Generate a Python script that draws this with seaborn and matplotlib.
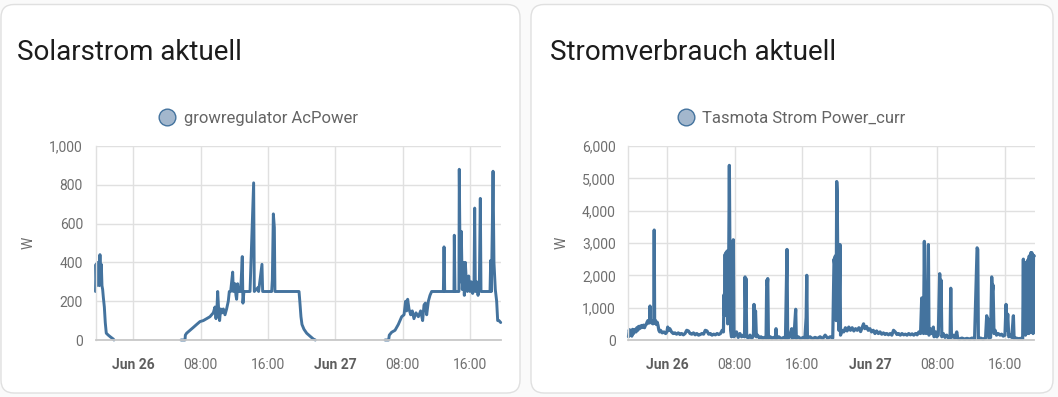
import numpy as np
import pandas as pd
import matplotlib
matplotlib.use("Agg")
import matplotlib.pyplot as plt
import matplotlib.dates as mdates
from matplotlib.patches import FancyBboxPatch
from matplotlib.lines import Line2D
from matplotlib.ticker import FixedLocator, StrMethodFormatter
import seaborn as sns

# ---------------- data (hours relative to Jun 26 00:00) ----------------
titles = ["Solarstrom aktuell", "Stromverbrauch aktuell"]
series_names = ["growregulator AcPower", "Tasmota Strom Power_curr"]
y_unit = "W"

solar_hours = [
    -4.49, -4.43, -4.35, -4.28, -4.20, -4.12, -4.04, -3.96, -3.88, -3.80, -3.72, -3.64,
    -3.56, -3.44, -3.33, -3.21, -2.97, -2.69, -2.38, -2.30,
    5.66, 6.14, 6.18, 6.33, 6.73, 7.13, 7.52, 7.92, 8.31, 8.71, 9.10, 9.50, 9.70, 9.82,
    9.94, 10.02, 10.13, 10.25, 10.37, 10.53, 10.69, 10.89, 11.08, 11.28, 11.40, 11.56,
    11.80, 11.88, 12.07, 12.19, 12.27, 12.39, 12.51, 12.75, 12.94, 13.02, 13.14, 13.46,
    13.86, 14.29, 14.37, 14.80, 14.88, 15.28, 15.36, 15.83, 16.43, 16.51, 16.63, 16.75,
    16.82, 17.81, 18.80, 19.68, 19.79, 19.91, 20.03, 20.27, 20.59, 20.98, 21.38, 21.62,
    29.89, 30.32, 30.40, 30.68, 31.08, 31.47, 31.87, 32.15, 32.34, 32.46, 32.58, 32.74,
    32.94, 33.13, 33.33, 33.57, 33.85, 34.12, 34.36, 34.52, 34.68, 34.84, 35.04, 35.23,
    35.43, 36.03, 36.82, 36.90, 36.98, 37.61, 38.08, 38.12, 38.20, 38.67, 38.71, 38.83,
    38.95, 39.07, 39.19, 39.31, 39.43, 39.55, 39.67, 39.83, 39.99, 40.14, 40.30, 40.46,
    40.54, 40.62, 40.78, 40.94, 41.10, 41.21, 41.29, 41.96, 42.36, 42.44, 42.52, 42.64,
    42.72, 42.83, 42.99, 43.15, 43.27, 43.43, 43.63,
]
solar_watts = [
    250, 390, 280, 400, 290, 390, 280, 440, 290, 390, 280, 260,
    220, 170, 90, 35, 25, 15, 5, 0,
    0, 0, 25, 35, 50, 65, 80, 95, 100, 110, 120, 140, 170, 110,
    170, 250, 160, 100, 160, 140, 160, 130, 160, 200, 250, 250,
    350, 250, 290, 230, 210, 290, 250, 250, 430, 190, 250, 250,
    250, 810, 250, 270, 250, 390, 250, 250, 250, 310, 650, 580,
    250, 250, 250, 250, 190, 120, 80, 55, 35, 20, 5, 0,
    0, 0, 25, 40, 50, 80, 120, 130, 200, 150, 210, 160,
    130, 150, 110, 140, 120, 150, 100, 180, 190, 130, 200, 230,
    250, 250, 250, 480, 250, 250, 250, 540, 250, 250, 880, 300,
    560, 260, 400, 230, 400, 300, 250, 330, 250, 300, 240, 290,
    680, 250, 300, 230, 300, 730, 250, 250, 250, 410, 250, 600,
    870, 400, 260, 200, 100, 100, 90,
]
# the solar history has no records during the two nights -> three separate runs
solar_segment = [1 if h < 0 else (2 if h < 25 else 3) for h in solar_hours]

power_hours = [
    -4.60, -4.50, -4.40, -4.30, -4.20, -4.10, -4.00, -3.90, -3.80, -3.70, -3.60, -3.50,
    -3.40, -3.30, -3.20, -3.10, -3.00, -2.90, -2.80, -2.70, -2.60, -2.50, -2.40, -2.30,
    -2.20, -2.10, -2.05, -2.00, -1.90, -1.80, -1.70, -1.60, -1.55, -1.50, -1.40, -1.30,
    -1.20, -1.10, -1.00, -0.90, -0.80, -0.60, -0.40, -0.20, -0.05, 0.05, 0.15, 0.30,
    0.50, 0.70, 0.90, 1.10, 1.30, 1.50, 1.70, 1.90, 2.10, 2.30, 2.50, 2.70,
    2.90, 3.10, 3.30, 3.50, 3.70, 3.90, 4.10, 4.30, 4.50, 4.70, 4.90, 5.10,
    5.30, 5.50, 5.70, 5.90, 6.10, 6.30, 6.50, 6.65, 6.72, 6.78, 6.85, 6.90,
    6.95, 7.00, 7.08, 7.15, 7.25, 7.35, 7.42, 7.50, 7.60, 7.75, 7.82, 7.90,
    8.00, 8.20, 8.40, 8.60, 8.80, 9.00, 9.15, 9.21, 9.27, 9.32, 9.40, 9.60,
    9.80, 10.00, 10.20, 10.27, 10.35, 10.45, 10.55, 10.70, 10.90, 11.10, 11.30, 11.50,
    11.70, 11.78, 11.84, 11.90, 11.98, 12.20, 12.40, 12.60, 12.80, 12.88, 12.95, 13.20,
    13.50, 13.80, 14.00, 14.18, 14.26, 14.50, 14.74, 14.80, 15.00, 15.21, 15.28, 15.50,
    15.80, 16.10, 16.30, 16.45, 16.52, 16.60, 16.90, 17.20, 17.50, 17.80, 18.10, 18.40,
    18.70, 19.00, 19.30, 19.60, 19.75, 19.82, 19.90, 20.00, 20.07, 20.12, 20.20, 20.26,
    20.33, 20.46, 20.52, 20.70, 20.90, 21.10, 21.30, 21.50, 21.70, 21.90, 22.10, 22.30,
    22.50, 22.70, 22.90, 23.10, 23.25, 23.40, 23.60, 23.80, 24.00, 24.20, 24.40, 24.60,
    24.80, 25.00, 25.20, 25.40, 25.60, 25.80, 26.00, 26.20, 26.40, 26.60, 26.80, 27.00,
    27.20, 27.40, 27.60, 27.80, 28.00, 28.20, 28.40, 28.60, 28.80, 29.00, 29.20, 29.40,
    29.60, 29.80, 30.00, 30.14, 30.20, 30.35, 30.45, 30.55, 30.65, 30.80, 30.93, 31.00,
    31.13, 31.30, 31.52, 31.60, 31.80, 31.92, 32.10, 32.27, 32.35, 32.43, 32.52, 32.70,
    32.90, 33.10, 33.30, 33.50, 33.58, 33.66, 33.85, 34.05, 34.29, 34.40, 34.60, 34.90,
    35.20, 35.50, 35.80, 36.10, 36.40, 36.70, 36.78, 36.85, 37.10, 37.40, 37.70, 37.84,
    37.92, 38.00, 38.10, 38.30, 38.43, 38.51, 38.59, 38.70, 38.83, 39.00, 39.20, 39.42,
    39.60, 39.80, 40.00, 40.13, 40.20, 40.33, 40.45, 40.60, 40.80, 41.00, 41.08, 41.30,
    41.60, 41.90, 42.10, 42.18, 42.23, 42.28, 42.33, 42.38, 42.43, 42.48, 42.53, 42.58,
    42.63, 42.68, 42.73, 42.78, 42.83, 42.88, 42.93, 42.98, 43.03, 43.08, 43.13, 43.18,
    43.23, 43.28, 43.33, 43.38, 43.47,
]
power_watts = [
    100, 320, 150, 300, 120, 330, 200, 280, 330, 250, 380, 300,
    420, 350, 430, 380, 450, 400, 460, 380, 450, 480, 550, 600,
    520, 620, 1050, 580, 530, 600, 500, 560, 3400, 520, 600, 480,
    550, 450, 300, 250, 300, 220, 250, 200, 250, 400, 300, 350,
    250, 200, 220, 180, 220, 170, 200, 160, 200, 300, 280, 200,
    180, 220, 160, 200, 150, 170, 200, 180, 300, 280, 180, 200,
    150, 180, 160, 200, 170, 200, 300, 250, 1400, 750, 2650, 1200,
    2700, 2300, 2750, 500, 1500, 5400, 2500, 300, 100, 200, 3100, 100,
    150, 250, 80, 200, 100, 150, 100, 1950, 1000, 1900, 100, 60,
    150, 50, 120, 1100, 300, 900, 100, 150, 60, 100, 40, 80,
    50, 1850, 1700, 1900, 50, 100, 40, 80, 50, 350, 50, 100,
    40, 80, 50, 2800, 50, 100, 350, 50, 80, 950, 50, 100,
    40, 80, 50, 700, 2000, 50, 100, 40, 80, 50, 100, 40,
    150, 50, 100, 60, 2500, 2350, 2600, 600, 4900, 4600, 2300, 2500,
    300, 2950, 150, 300, 250, 380, 280, 400, 300, 380, 280, 350,
    300, 380, 260, 400, 500, 350, 420, 300, 350, 250, 300, 200,
    280, 200, 250, 180, 220, 170, 200, 160, 200, 150, 300, 250,
    170, 200, 150, 200, 160, 180, 150, 200, 160, 190, 150, 200,
    160, 250, 200, 1300, 300, 200, 3050, 250, 200, 300, 2950, 150,
    350, 200, 400, 100, 250, 100, 150, 2050, 1000, 1850, 100, 200,
    80, 150, 60, 100, 1600, 80, 150, 60, 250, 60, 30, 60,
    30, 50, 30, 60, 30, 2850, 2800, 40, 60, 30, 60, 750,
    300, 650, 50, 80, 1950, 1500, 1700, 200, 300, 150, 200, 150,
    180, 120, 150, 1100, 300, 800, 100, 150, 80, 750, 50, 60,
    40, 50, 40, 2500, 200, 2400, 300, 2350, 150, 2400, 250, 2350,
    200, 2450, 300, 2500, 200, 2600, 250, 2450, 300, 2700, 250, 2700,
    300, 2650, 200, 2600, 2600,
]

# ---------------- style ----------------
LINE = "#44739e"
GRID = "#e0e0e0"
TICK_TXT = "#6f6f6f"
sns.set_theme(style="whitegrid")
plt.rcParams["font.family"] = ["Roboto", "DejaVu Sans"]

W, H = 1058, 397
fig = plt.figure(figsize=(W / 100, H / 100), dpi=100)
fig.patch.set_facecolor("#fafafa")

# background layer in pixel units (cards)
bg = fig.add_axes([0, 0, 1, 1])
bg.set_xlim(0, W)
bg.set_ylim(H, 0)
bg.axis("off")
cards = [(1, 4.5, 519, 388.5), (531, 4.5, 522, 388.5)]
for (cx, cy, cw, ch) in cards:
    bg.add_patch(FancyBboxPatch((cx, cy), cw, ch,
                                boxstyle="round,pad=0,rounding_size=13",
                                facecolor="white", edgecolor="#e0e0e0", linewidth=1.0))

base = pd.Timestamp("2025-06-26 00:00")


def to_time(hours):
    return [base + pd.Timedelta(hours=h) for h in hours]


def px_axes(x0, x1, y0=146, y1=340):
    return fig.add_axes([x0 / W, (H - y1) / H, (x1 - x0) / W, (y1 - y0) / H])


def style_axis(ax, ymax, ystep, xlim_h, ylabel_x):
    ax.set_facecolor("none")
    ax.set_ylim(0, ymax)
    ax.set_xlim(base + pd.Timedelta(hours=xlim_h[0]), base + pd.Timedelta(hours=xlim_h[1]))
    ax.yaxis.set_major_locator(FixedLocator(np.arange(0, ymax + 1, ystep)))
    ax.yaxis.set_major_formatter(StrMethodFormatter("{x:,.0f}"))
    tick_h = [0, 8, 16, 24, 32, 40]
    ticks = [mdates.date2num(base + pd.Timedelta(hours=h)) for h in tick_h]
    ax.xaxis.set_major_locator(FixedLocator(ticks))
    labels = ["Jun 26", "08:00", "16:00", "Jun 27", "08:00", "16:00"]
    ax.set_xticklabels(labels)
    ax.grid(True, color=GRID, linewidth=1.0)
    ax.tick_params(axis="both", length=8, width=1.0, color=GRID, labelsize=10,
                   labelcolor=TICK_TXT)
    ax.tick_params(axis="y", pad=1)
    ax.tick_params(axis="x", pad=5)
    for lab, h in zip(ax.get_xticklabels(), tick_h):
        if h % 24 == 0:
            lab.set_fontweight("bold")
            lab.set_color("#5e5e5e")
    for s in ["top", "right"]:
        ax.spines[s].set_visible(False)
    ax.spines["left"].set_color(GRID)
    ax.spines["left"].set_linewidth(1.0)
    ax.spines["bottom"].set_color("#c8c8c8")
    ax.spines["bottom"].set_linewidth(1.3)
    ax.set_xlabel("")
    ax.set_ylabel(y_unit, color=TICK_TXT, fontsize=10)
    ax.yaxis.set_label_coords(ylabel_x, 0.5)


# ---------------- left chart ----------------
solar_df = pd.DataFrame({"time": to_time(solar_hours), "value": solar_watts,
                         "segment": solar_segment})
ax1 = px_axes(95.5, 500.7)
sns.lineplot(data=solar_df, x="time", y="value", units="segment", estimator=None,
             color=LINE, linewidth=2.1, ax=ax1, clip_on=False)
style_axis(ax1, 1000, 200, (-4.49, 43.63), (36 - 95.5) / 405.2)

# ---------------- right chart ----------------
power_df = pd.DataFrame({"time": to_time(power_hours), "value": power_watts})
ax2 = px_axes(628.3, 1034.5)
sns.lineplot(data=power_df, x="time", y="value", estimator=None, sort=False,
             color=LINE, linewidth=2.3, ax=ax2, clip_on=False)
style_axis(ax2, 6000, 1000, (-4.62, 43.50), (569 - 628.3) / 406.2)

# ---------------- titles & legends ----------------
legend_left = [158.5, 677.5]
title_x = [16.0, 18.5]
for (cx, cy, cw, ch), title, name, ax, lx, tx in zip(cards, titles, series_names,
                                                       [ax1, ax2], legend_left, title_x):
    bg.text(cx + tx, 60, title, fontsize=20, color="#1c1c1c", ha="left", va="baseline")
    handle = Line2D([], [], marker="o", linestyle="", markersize=12,
                    markerfacecolor="#a3b7cd", markeredgecolor=LINE, markeredgewidth=1.0)
    ax.legend([handle], [name], loc="center left", frameon=False,
              bbox_to_anchor=(lx / W, 1 - 118 / H), bbox_transform=fig.transFigure,
              fontsize=12, labelcolor="#646464", handlelength=1.0, handletextpad=0.5,
              borderpad=0, borderaxespad=0)

fig.savefig("out.png", dpi=100, facecolor=fig.get_facecolor())
